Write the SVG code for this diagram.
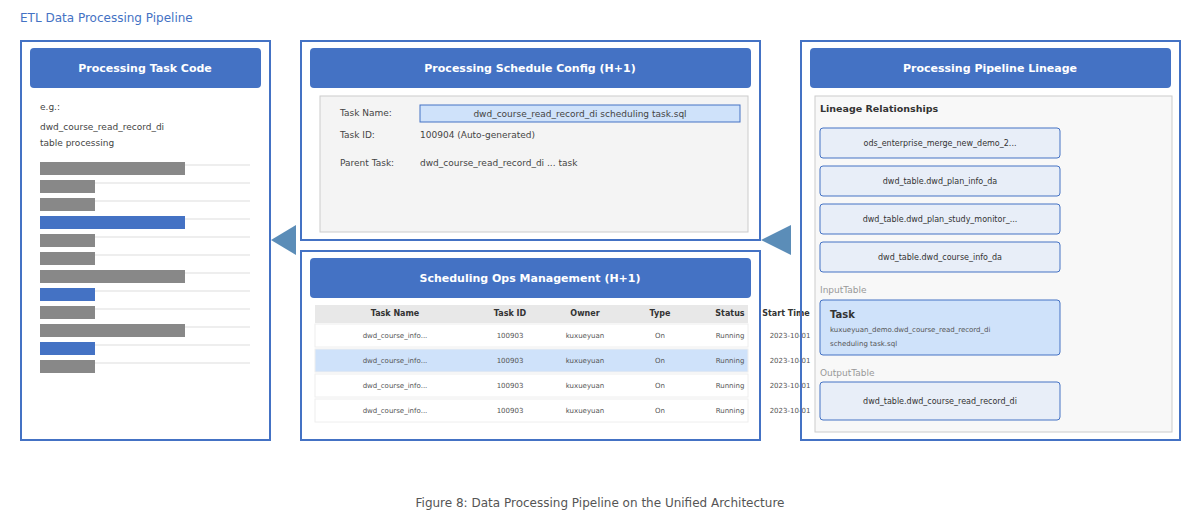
<svg xmlns="http://www.w3.org/2000/svg" width="1200" height="520" viewBox="0 0 1200 520">
<style>
text{font-family:"DejaVu Sans","Noto Sans",sans-serif}
.panel{fill:none;stroke:#4472c4;stroke-width:2}
.hdr{fill:#4472c4}
.ht{fill:#fff;font-size:11px;font-weight:bold;text-anchor:middle}
.lbl{fill:#444;font-size:9px}
.bar{fill:#888}
.barb{fill:#4472c4}
.gl{stroke:#ddd;stroke-width:1}
.th{fill:#333;font-size:8px;font-weight:bold;text-anchor:middle}
.td{fill:#555;font-size:7px;text-anchor:middle}
.lb{fill:#e8eef8;stroke:#4472c4;stroke-width:1}
.lt{fill:#333;font-size:8px;text-anchor:middle}
.arr{fill:#5b8db8}
</style>
<rect width="1200" height="520" fill="#fff"/>
<text x="20" y="22" font-size="12" fill="#4472c4">ETL Data Processing Pipeline</text>

<g id="task-code">
<rect class="panel" x="21" y="41" width="249" height="399" fill="#fff"/>
<rect class="hdr" x="30" y="48" width="231" height="40" rx="4"/>
<text class="ht" x="145" y="72">Processing Task Code</text>
<text class="lbl" x="40" y="110">e.g.:</text>
<text class="lbl" x="40" y="130">dwd_course_read_record_di</text>
<text class="lbl" x="40" y="146">table processing</text>
<g>
<line class="gl" x1="40" y1="165" x2="250" y2="165"/><rect class="bar" x="40" y="162" width="145" height="13"/>
<line class="gl" x1="40" y1="183" x2="250" y2="183"/><rect class="bar" x="40" y="180" width="55" height="13"/>
<line class="gl" x1="40" y1="201" x2="250" y2="201"/><rect class="bar" x="40" y="198" width="55" height="13"/>
<line class="gl" x1="40" y1="219" x2="250" y2="219"/><rect class="barb" x="40" y="216" width="145" height="13"/>
<line class="gl" x1="40" y1="237" x2="250" y2="237"/><rect class="bar" x="40" y="234" width="55" height="13"/>
<line class="gl" x1="40" y1="255" x2="250" y2="255"/><rect class="bar" x="40" y="252" width="55" height="13"/>
<line class="gl" x1="40" y1="273" x2="250" y2="273"/><rect class="bar" x="40" y="270" width="145" height="13"/>
<line class="gl" x1="40" y1="291" x2="250" y2="291"/><rect class="barb" x="40" y="288" width="55" height="13"/>
<line class="gl" x1="40" y1="309" x2="250" y2="309"/><rect class="bar" x="40" y="306" width="55" height="13"/>
<line class="gl" x1="40" y1="327" x2="250" y2="327"/><rect class="bar" x="40" y="324" width="145" height="13"/>
<line class="gl" x1="40" y1="345" x2="250" y2="345"/><rect class="barb" x="40" y="342" width="55" height="13"/>
<line class="gl" x1="40" y1="363" x2="250" y2="363"/><rect class="bar" x="40" y="360" width="55" height="13"/>
</g>
</g>

<g id="schedule-config">
<rect class="panel" x="301" y="41" width="459" height="199" fill="#fff"/>
<rect class="hdr" x="310" y="48" width="441" height="40" rx="4"/>
<text class="ht" x="530" y="72">Processing Schedule Config (H+1)</text>
<rect x="320" y="96" width="428" height="136" fill="#f4f4f4" stroke="#ccc"/>
<text class="lbl" x="340" y="116">Task Name:</text>
<rect x="420" y="105" width="320" height="17" fill="#cfe2fa" stroke="#4472c4"/>
<text class="lbl" x="580" y="117" text-anchor="middle" font-size="8">dwd_course_read_record_di scheduling task.sql</text>
<text class="lbl" x="340" y="138">Task ID:</text>
<text class="lbl" x="420" y="138">100904 (Auto-generated)</text>
<text class="lbl" x="340" y="166">Parent Task:</text>
<text class="lbl" x="420" y="166">dwd_course_read_record_di ... task</text>
</g>

<g id="ops-management">
<rect class="panel" x="301" y="251" width="459" height="189" fill="#fff"/>
<rect class="hdr" x="310" y="258" width="441" height="40" rx="4"/>
<text class="ht" x="530" y="282">Scheduling Ops Management (H+1)</text>
<rect x="315" y="305" width="433" height="18" fill="#e8e8e8"/>
<text class="th" x="395" y="316">Task Name</text>
<text class="th" x="510" y="316">Task ID</text>
<text class="th" x="585" y="316">Owner</text>
<text class="th" x="660" y="316">Type</text>
<text class="th" x="730" y="316">Status</text>
<text class="th" x="786" y="316" text-anchor="start">Start Time</text>
<g>
<rect x="315" y="324" width="433" height="23" fill="#fff" stroke="#eee"/>
<rect x="315" y="349" width="433" height="23" fill="#cfe2fa" stroke="#eee"/>
<rect x="315" y="374" width="433" height="23" fill="#fff" stroke="#eee"/>
<rect x="315" y="399" width="433" height="23" fill="#fff" stroke="#eee"/>
</g>
<g>
<text class="td" x="395" y="338">dwd_course_info...</text><text class="td" x="510" y="338">100903</text><text class="td" x="585" y="338">kuxueyuan</text><text class="td" x="660" y="338">On</text><text class="td" x="730" y="338">Running</text><text class="td" x="790" y="338" text-anchor="start">2023-10-01</text>
<text class="td" x="395" y="363">dwd_course_info...</text><text class="td" x="510" y="363">100903</text><text class="td" x="585" y="363">kuxueyuan</text><text class="td" x="660" y="363">On</text><text class="td" x="730" y="363">Running</text><text class="td" x="790" y="363" text-anchor="start">2023-10-01</text>
<text class="td" x="395" y="388">dwd_course_info...</text><text class="td" x="510" y="388">100903</text><text class="td" x="585" y="388">kuxueyuan</text><text class="td" x="660" y="388">On</text><text class="td" x="730" y="388">Running</text><text class="td" x="790" y="388" text-anchor="start">2023-10-01</text>
<text class="td" x="395" y="413">dwd_course_info...</text><text class="td" x="510" y="413">100903</text><text class="td" x="585" y="413">kuxueyuan</text><text class="td" x="660" y="413">On</text><text class="td" x="730" y="413">Running</text><text class="td" x="790" y="413" text-anchor="start">2023-10-01</text>
</g>
</g>

<g id="lineage">
<rect class="panel" x="801" y="41" width="379" height="399"/>
<rect class="hdr" x="810" y="48" width="361" height="40" rx="4"/>
<text class="ht" x="990" y="72">Processing Pipeline Lineage</text>
<rect x="815" y="96" width="357" height="336" fill="#f8f8f8" stroke="#ccc"/>
<text x="820" y="112" font-size="9.5" font-weight="bold" fill="#333">Lineage Relationships</text>
<rect class="lb" x="820" y="128" width="240" height="30" rx="3"/><text class="lt" x="940" y="146">ods_enterprise_merge_new_demo_2...</text>
<rect class="lb" x="820" y="166" width="240" height="30" rx="3"/><text class="lt" x="940" y="184">dwd_table.dwd_plan_info_da</text>
<rect class="lb" x="820" y="204" width="240" height="30" rx="3"/><text class="lt" x="940" y="222">dwd_table.dwd_plan_study_monitor_...</text>
<rect class="lb" x="820" y="242" width="240" height="30" rx="3"/><text class="lt" x="940" y="260">dwd_table.dwd_course_info_da</text>
<text x="820" y="293" font-size="9" fill="#999">InputTable</text>
<rect x="820" y="300" width="240" height="55" rx="3" fill="#cfe2fa" stroke="#4472c4"/>
<text x="830" y="318" font-size="10" font-weight="bold" fill="#333">Task</text>
<text x="830" y="332" font-size="7" fill="#555">kuxueyuan_demo.dwd_course_read_record_di</text>
<text x="830" y="346" font-size="7" fill="#555">scheduling task.sql</text>
<text x="820" y="376" font-size="9" fill="#999">OutputTable</text>
<rect class="lb" x="820" y="382" width="240" height="38" rx="3"/><text class="lt" x="940" y="404">dwd_table.dwd_course_read_record_di</text>
</g>

<g id="connectors">
<polygon class="arr" points="271,240 296,225 296,255"/>
<polygon class="arr" points="761,240 791,225 791,255"/>
</g>

<text x="600" y="507" font-size="12" fill="#555" text-anchor="middle">Figure 8: Data Processing Pipeline on the Unified Architecture</text>
</svg>
